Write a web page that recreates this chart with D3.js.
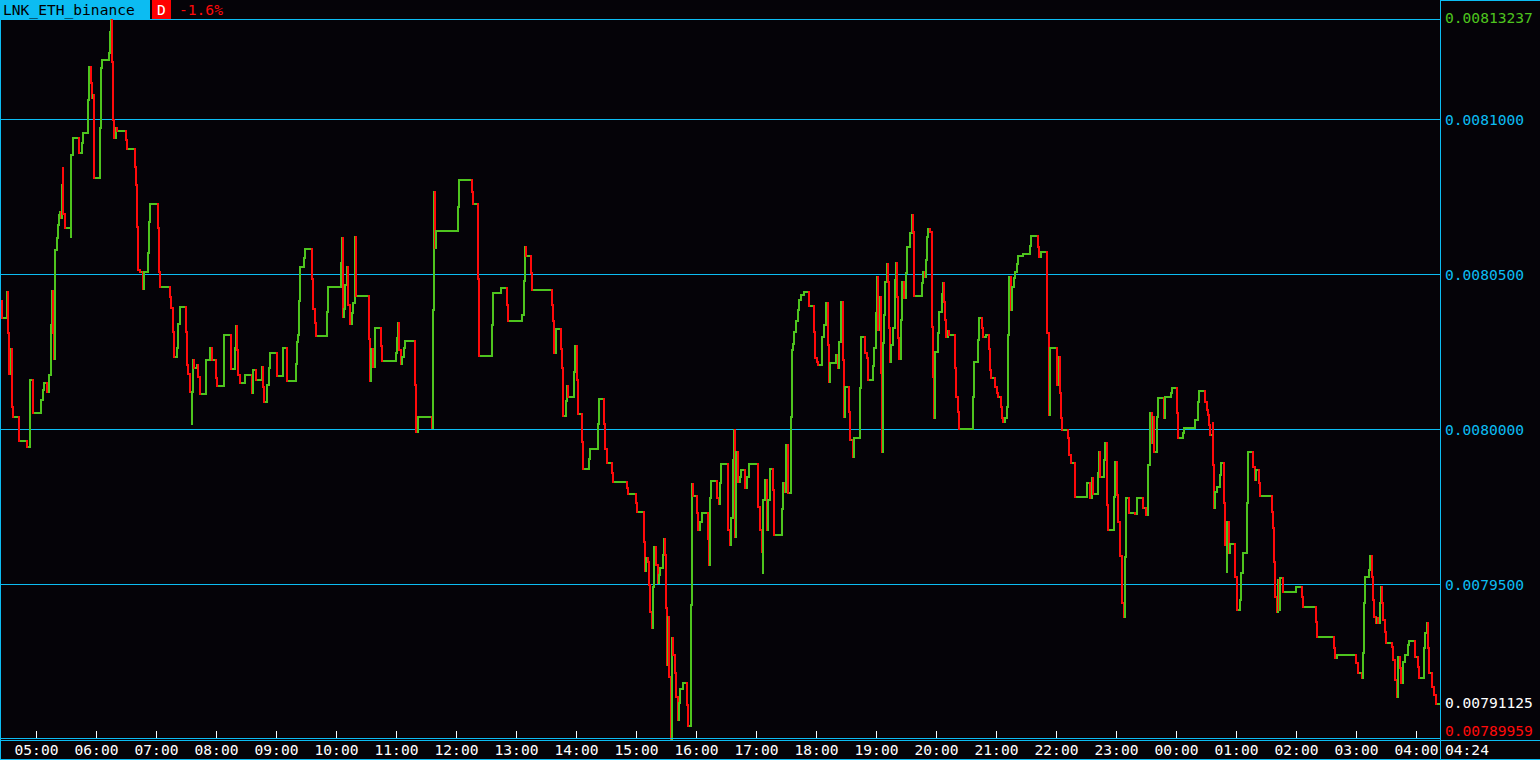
<!DOCTYPE html>
<html><head><meta charset="utf-8">
<script src="https://cdn.jsdelivr.net/npm/d3@7"></script>
<style>html,body{margin:0;padding:0;background:#050308;overflow:hidden}svg{display:block}</style>
</head><body><svg id="c" width="1540" height="760"></svg>
<script>
const symbol = "LNK_ETH_binance";
const periodTag = "D";
const changeText = "-1.6%";
const startTime = "2024-01-01T04:24:00";
const endLabel = "04:24";
const maxPrice = 0.00813237, minPrice = 0.00789959, lastPrice = 0.00791125;
const gridValues = [0.0081, 0.00805, 0.008, 0.00795];
const hourTicks = ["05:00","06:00","07:00","08:00","09:00","10:00","11:00","12:00","13:00","14:00","15:00","16:00","17:00","18:00","19:00","20:00","21:00","22:00","23:00","00:00","01:00","02:00","03:00","04:00"];
// minutes since start
const tMin = [0,2,7.3,8,8.7,10.7,11.7,12.7,19,27.3,30,33.3,41.3,42.7,44.3,46.7,49,50.7,52,53.3,54.3,55.3,56.7,57.7,58.7,60,60.7,61.7,62.7,63.3,64.7,70.7,71.3,72.7,78.7,81.7,82.7,88,89,90.7,92,93.3,94.3,100.3,101.3,102,109,110,111,112,113,114,116,117.3,126,127,135,136,136.7,137.7,140,143.3,144.3,148,149,150.3,158,159,160,170.3,171.3,173,173.7,176.7,178.3,180,185.7,186.7,188.3,190,191.7,192.3,193.3,194.3,196.7,198.3,200,206.3,210,212.3,216,217.3,224.3,231,235,236,237.3,238.3,240,245,251.7,253.3,255.7,261.7,263,264.3,266.7,268.7,270,277.3,282.7,287.3,296,297,298,299,300,304,305,312,313,314.7,315.7,327,328,341,342,342.7,344.3,345.3,346.7,348,350,352,353.3,354.7,356,369,370,371.3,373.3,374.7,381,382,395.7,397,397.7,398.7,400.7,402,403.7,405,415,416,417.7,432.3,433.3,434,435,436,457.7,459,472,473,478,479,492,493,501,507,508,522.3,523.7,524.7,526.3,530.7,532,552,553,554,555.7,561,562,563.3,565.7,566.7,568.3,574.3,575.3,576.7,578,581.7,582.7,589,590,598.3,599.3,604.3,605.3,606.7,612,612.7,627,628.3,636,637,644,645,646.3,647.7,649,650.3,651.7,652.7,654,656.3,657.7,659,660,662.7,664,664.7,666,667,668.3,669.3,670.7,671.7,673.3,674.7,676,677.7,679,680,683.3,686.7,687.7,691,692,693.3,696.7,697.7,700,701.7,708.3,709,710,711.3,717.3,718.7,720,721,728.3,729.7,731,732.7,733.7,734.7,735.7,738,739.7,741.3,744.7,747.3,748.7,758.3,760,762,762.7,763.3,765,766.7,768.3,770,772.7,774.3,782,783.3,784.7,786,788.3,791,792,793.3,794.3,796,797.7,798.7,801,804,808.7,814.3,815,816.7,818,822.3,824.3,825.7,827.7,828.7,830,835.7,838.3,839.3,840.7,842.7,844,845.3,849.3,850,852.7,854,860,861,865,866.7,867.7,872.7,874,876,877.3,878.3,880.3,881,881.7,882.7,884,885.3,886.7,888,889,890,891.3,893.3,895,896,896.7,897.7,898.7,900.7,901.7,904,905.7,907,910.3,911.7,912.7,913.7,914.3,922,923.3,925,926,927.3,928.3,930.3,931.7,932.3,933.3,934,935,938.3,939.3,942,943,944,945,946.3,947.7,949.3,955.3,956.3,957.7,959,973.3,974.3,978.3,979.3,982,983.3,985.7,988.7,990,991.3,995.3,996.7,998,1001,1002.3,1003.3,1004.7,1006.7,1008,1009,1010.7,1012.3,1014,1015.3,1016.7,1018.3,1023.3,1029.7,1030.7,1038.3,1039.3,1041,1047.3,1048.7,1050,1057.3,1058.7,1060,1061,1062.3,1068,1069.3,1071,1075.3,1087.3,1090,1092.3,1093.3,1097.7,1098.7,1100,1104,1105,1106.7,1107.7,1114.3,1115.3,1116.7,1118.3,1120,1122,1124,1125,1126,1129.3,1135.3,1137.3,1142.7,1146,1148.3,1150,1151.7,1153.3,1154.3,1157.3,1158.3,1164,1165.3,1171,1172.3,1177.3,1178.3,1183,1184.3,1195.3,1198,1199.3,1205.3,1206.7,1208.3,1209.3,1210.3,1212.7,1213.3,1214,1215.3,1216.7,1220,1221,1224,1225,1226.7,1227.3,1228.7,1230,1235.3,1236.7,1240.3,1241.3,1242.7,1247,1248,1253,1254.7,1256,1259,1260,1272,1273.3,1274,1275,1276.7,1277.7,1278.7,1280,1283.3,1295.7,1302,1303.3,1316.3,1317.3,1334,1335.3,1336.7,1356.3,1357.7,1361.7,1363,1364,1365,1369.3,1370.3,1371.7,1372.7,1374,1375.7,1377,1378.3,1379.7,1380.7,1382,1383.3,1385,1386.3,1392.3,1393.3,1395,1396.7,1398,1400,1401.3,1402.7,1405,1407.7,1409.3,1415.3,1417.7,1419,1424,1425.3,1426.7,1427.7,1429.3,1432,1434.3,1436];
const price = [0.00804129,0.00803581,0.00804419,0.00803097,0.00801774,0.00802581,0.00800710,0.00800387,0.00799613,0.00799419,0.00801581,0.00800516,0.00800935,0.00801258,0.00801484,0.00801194,0.00801742,0.00803355,0.00804452,0.00803097,0.00802258,0.00805774,0.00806161,0.00806581,0.00806903,0.00807000,0.00806806,0.00807871,0.00808419,0.00806935,0.00806484,0.00806194,0.00808839,0.00809387,0.00808903,0.00809226,0.00809548,0.00810613,0.00811677,0.00811161,0.00810677,0.00810774,0.00808097,0.00809710,0.00811645,0.00811903,0.00812129,0.00812806,0.00813237,0.00811839,0.00809968,0.00809387,0.00809710,0.00809613,0.00809323,0.00809032,0.00808452,0.00807871,0.00806516,0.00805129,0.00805065,0.00804516,0.00805065,0.00805677,0.00806677,0.00807258,0.00806484,0.00805065,0.00804581,0.00804258,0.00803903,0.00803129,0.00802323,0.00802613,0.00803387,0.00803935,0.00803129,0.00802065,0.00801774,0.00801194,0.00800161,0.00801194,0.00802226,0.00801968,0.00802065,0.00801677,0.00801129,0.00802226,0.00802613,0.00802226,0.00801645,0.00801387,0.00803032,0.00801935,0.00802613,0.00803323,0.00802548,0.00801742,0.00801484,0.00801742,0.00801161,0.00801903,0.00801581,0.00802000,0.00801355,0.00800871,0.00801419,0.00801968,0.00802452,0.00801710,0.00802613,0.00801548,0.00802097,0.00802806,0.00803032,0.00804129,0.00805226,0.00805516,0.00805806,0.00804839,0.00803871,0.00803419,0.00803000,0.00803774,0.00804581,0.00805355,0.00806161,0.00803613,0.00803871,0.00804645,0.00805226,0.00804000,0.00803387,0.00803742,0.00804065,0.00806194,0.00804290,0.00802903,0.00801548,0.00802581,0.00802000,0.00803258,0.00802677,0.00802194,0.00802452,0.00802935,0.00803419,0.00802548,0.00802097,0.00802323,0.00802613,0.00802839,0.00801419,0.00799903,0.00800387,0.00800032,0.00803839,0.00807645,0.00805839,0.00806387,0.00807161,0.00808032,0.00807645,0.00807258,0.00804839,0.00802355,0.00803355,0.00804387,0.00804548,0.00804000,0.00803484,0.00803677,0.00804774,0.00805871,0.00805581,0.00805032,0.00804484,0.00804000,0.00803484,0.00802452,0.00803226,0.00802581,0.00801968,0.00800419,0.00800903,0.00801387,0.00801032,0.00801839,0.00802677,0.00801581,0.00800484,0.00799581,0.00798710,0.00799032,0.00799355,0.00800161,0.00800968,0.00800161,0.00799355,0.00798903,0.00798581,0.00798290,0.00798097,0.00797903,0.00797613,0.00797323,0.00796355,0.00795419,0.00795839,0.00795710,0.00794968,0.00794097,0.00793581,0.00794903,0.00796194,0.00795613,0.00795032,0.00795290,0.00795516,0.00795935,0.00796452,0.00795935,0.00794226,0.00792387,0.00793935,0.00792000,0.00789959,0.00793258,0.00792710,0.00792129,0.00791355,0.00790613,0.00791161,0.00791613,0.00791806,0.00791097,0.00790419,0.00794323,0.00798226,0.00797839,0.00797290,0.00796742,0.00797000,0.00797290,0.00796452,0.00795613,0.00797774,0.00798323,0.00797774,0.00797581,0.00798258,0.00798871,0.00796742,0.00796258,0.00797129,0.00799000,0.00799968,0.00796516,0.00799258,0.00798290,0.00798452,0.00798677,0.00798097,0.00798452,0.00798871,0.00797484,0.00796742,0.00796032,0.00795355,0.00797710,0.00798355,0.00796742,0.00797710,0.00798710,0.00798032,0.00796581,0.00797419,0.00798258,0.00797968,0.00799484,0.00797935,0.00800387,0.00802548,0.00802742,0.00803129,0.00803484,0.00803839,0.00804161,0.00804323,0.00804419,0.00803968,0.00803129,0.00802290,0.00802161,0.00802065,0.00802968,0.00803355,0.00804065,0.00802710,0.00801516,0.00802129,0.00802387,0.00801968,0.00802806,0.00804097,0.00802226,0.00800387,0.00801355,0.00800548,0.00799645,0.00799097,0.00799710,0.00801323,0.00802968,0.00802452,0.00802290,0.00801581,0.00802032,0.00802613,0.00803742,0.00804903,0.00803194,0.00804258,0.00801806,0.00799258,0.00802774,0.00803677,0.00804742,0.00805323,0.00804742,0.00803258,0.00802161,0.00802710,0.00803258,0.00804806,0.00805355,0.00804258,0.00802935,0.00802258,0.00803516,0.00804742,0.00804226,0.00805032,0.00805871,0.00806323,0.00806903,0.00806355,0.00805065,0.00804290,0.00804710,0.00805065,0.00804903,0.00805452,0.00806194,0.00806452,0.00806355,0.00804903,0.00803290,0.00801677,0.00800355,0.00802484,0.00803097,0.00803774,0.00804355,0.00804710,0.00804097,0.00803516,0.00802968,0.00803161,0.00803032,0.00801968,0.00801032,0.00800548,0.00800000,0.00801032,0.00802161,0.00802871,0.00803581,0.00803258,0.00802968,0.00803032,0.00802581,0.00801903,0.00801645,0.00801355,0.00801161,0.00801032,0.00800710,0.00800355,0.00800226,0.00800355,0.00800710,0.00803032,0.00804903,0.00803839,0.00804581,0.00804871,0.00805065,0.00805323,0.00805581,0.00805645,0.00805903,0.00806226,0.00805871,0.00805548,0.00805710,0.00803097,0.00800452,0.00802613,0.00801419,0.00802323,0.00801161,0.00800355,0.00799968,0.00799710,0.00799161,0.00798903,0.00797806,0.00798258,0.00797774,0.00798419,0.00797903,0.00798581,0.00799258,0.00798452,0.00799000,0.00799548,0.00797548,0.00796742,0.00797806,0.00798935,0.00797871,0.00797000,0.00795903,0.00794387,0.00793935,0.00795871,0.00797774,0.00797290,0.00797258,0.00797774,0.00797452,0.00797226,0.00798839,0.00800516,0.00799548,0.00800387,0.00799258,0.00800387,0.00801000,0.00800355,0.00801032,0.00801161,0.00801323,0.00800516,0.00799710,0.00799871,0.00800032,0.00800290,0.00800871,0.00801226,0.00800871,0.00800613,0.00800452,0.00800129,0.00799806,0.00800194,0.00798839,0.00797452,0.00797968,0.00798129,0.00798516,0.00798903,0.00797613,0.00796258,0.00795387,0.00797000,0.00796000,0.00796290,0.00795226,0.00794161,0.00794484,0.00795355,0.00796000,0.00797613,0.00799258,0.00798774,0.00798355,0.00798677,0.00798258,0.00797839,0.00797323,0.00796806,0.00795710,0.00794581,0.00794097,0.00795129,0.00794161,0.00795194,0.00794742,0.00794903,0.00794581,0.00794258,0.00793774,0.00793290,0.00792935,0.00792613,0.00792710,0.00792452,0.00792129,0.00791968,0.00792774,0.00794387,0.00795226,0.00795452,0.00795903,0.00795226,0.00794484,0.00793935,0.00793742,0.00793903,0.00793742,0.00794387,0.00794903,0.00794387,0.00793839,0.00793452,0.00793097,0.00792968,0.00792548,0.00791903,0.00791355,0.00792645,0.00792290,0.00791806,0.00792484,0.00792710,0.00793032,0.00793161,0.00792645,0.00792323,0.00791968,0.00792935,0.00793419,0.00793742,0.00792935,0.00792129,0.00791677,0.00791419,0.00791125];

const W = 1540, H = 760, plotRight = 1441, axisY = 738;
const CYAN = "#0cbcf2", GREEN = "#4ec41e", RED = "#ff0a0a", BG = "#050308";
const FONT = "'DejaVu Sans Mono', 'Liberation Mono', monospace";
const FS = "14.6px";

const start = new Date(startTime);
const end = d3.timeMinute.offset(start, 1440);
const x = d3.scaleTime().domain([start, end]).range([0, 1440]);
const y = d3.scaleLinear().domain([0.0079, 0.0081]).range([739, 119]);
const series = tMin.map((m, i) => ({ t: new Date(+start + m * 60000), p: price[i] }));

const svg = d3.select("#c");
svg.append("rect").attr("width", W).attr("height", H).attr("fill", BG);

const crisp = v => Math.round(v) + 0.5;
const grid = svg.append("g").attr("shape-rendering", "crispEdges");
gridValues.forEach(v => {
  grid.append("line").attr("x1", 0).attr("x2", plotRight).attr("y1", crisp(y(v))).attr("y2", crisp(y(v)))
    .attr("stroke", CYAN).attr("stroke-width", 1);
});
grid.append("line").attr("x1", 0).attr("x2", plotRight).attr("y1", crisp(y(maxPrice))).attr("y2", crisp(y(maxPrice)))
  .attr("stroke", CYAN).attr("stroke-width", 1);

// series (step line): horizontal runs green, vertical moves coloured by direction
const R = Math.round;
const line = d3.line().x(d => R(d[0])).y(d => R(d[1]));
const gH = svg.append("g").attr("shape-rendering", "crispEdges").attr("fill", "none").attr("stroke-width", 2).attr("stroke-linecap", "square");
const gV = svg.append("g").attr("shape-rendering", "crispEdges").attr("fill", "none").attr("stroke-width", 2).attr("stroke-linecap", "square");
series.forEach((d, i) => {
  const x0 = x(d.t);
  const nx = i < series.length - 1 ? x(series[i + 1].t) : x(end);
  const yy = y(d.p);
  gH.append("path").attr("d", line([[x0, yy], [nx, yy]])).attr("stroke", GREEN);
  if (i < series.length - 1) {
    const ny = y(series[i + 1].p);
    gV.append("path").attr("d", line([[nx, yy], [nx, ny]]))
      .attr("stroke", series[i + 1].p >= d.p ? GREEN : RED);
  }
});

// frame
const frame = svg.append("g").attr("shape-rendering", "crispEdges").attr("stroke", CYAN).attr("stroke-width", 1);
frame.append("line").attr("x1", 0.5).attr("x2", 0.5).attr("y1", 0).attr("y2", H);
frame.append("line").attr("x1", plotRight - 0.5).attr("x2", plotRight - 0.5).attr("y1", 0).attr("y2", H);
frame.append("line").attr("x1", plotRight).attr("x2", W).attr("y1", 0.5).attr("y2", 0.5);
frame.append("line").attr("x1", 0).attr("x2", plotRight).attr("y1", axisY + 0.5).attr("y2", axisY + 0.5);
frame.append("line").attr("x1", 0).attr("x2", W).attr("y1", crisp(y(minPrice))).attr("y2", crisp(y(minPrice)));
frame.append("line").attr("x1", 0).attr("x2", W).attr("y1", H - 0.5).attr("y2", H - 0.5);

// time axis
const tickDates = hourTicks.map(s => {
  const [hh, mm] = s.split(":").map(Number);
  let d = new Date(start); d.setHours(hh, mm, 0, 0);
  if (d < start) d = d3.timeDay.offset(d, 1);
  return d;
});
const xAxis = d3.axisTop(x).tickValues(tickDates).tickSize(7).tickFormat(d3.timeFormat("%H:%M"));
const ax = svg.append("g").attr("transform", `translate(0,${axisY})`).call(xAxis);
ax.select(".domain").remove();
ax.selectAll(".tick line").attr("stroke", "#ffffff").attr("shape-rendering", "crispEdges");
ax.selectAll(".tick text").attr("fill", "#ffffff").attr("font-family", FONT).attr("font-size", FS)
  .attr("y", 17).attr("dy", 0).attr("dominant-baseline", "alphabetic").attr("text-anchor", "middle");

svg.append("text").attr("x", 1445).attr("y", 755).attr("fill", "#ffffff").attr("font-family", FONT).attr("font-size", FS).text(endLabel);

// price axis labels
const lab = svg.append("g").attr("font-family", FONT).attr("font-size", FS).attr("dominant-baseline", "central");
gridValues.forEach(v => lab.append("text").attr("x", 1445).attr("y", y(v) + 0.5).attr("fill", CYAN).text(v.toFixed(7)));
lab.append("text").attr("x", 1445).attr("y", y(maxPrice) - 1).attr("fill", GREEN).text(maxPrice.toFixed(8));
lab.append("text").attr("x", 1445).attr("y", y(lastPrice) - 1.5).attr("fill", "#ffffff").text(lastPrice.toFixed(8));
lab.append("text").attr("x", 1445).attr("y", y(minPrice) - 10).attr("fill", RED).text(minPrice.toFixed(8));

// header
const hdr = svg.append("g").attr("font-family", FONT).attr("font-size", FS);
hdr.append("rect").attr("x", 0).attr("y", 0).attr("width", 150).attr("height", 19).attr("fill", CYAN);
hdr.append("text").attr("x", 3).attr("y", 15).attr("fill", "#000000").text(symbol);
hdr.append("rect").attr("x", 152).attr("y", 0).attr("width", 19).attr("height", 19).attr("fill", "#ff0000");
hdr.append("text").attr("x", 157).attr("y", 15).attr("fill", "#ffffff").text(periodTag);
hdr.append("text").attr("x", 179).attr("y", 15).attr("fill", RED).text(changeText);
</script></body></html>
